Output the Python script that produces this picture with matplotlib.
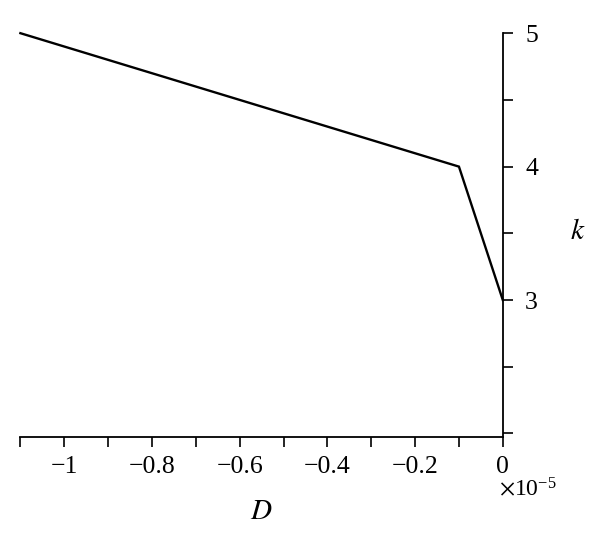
import matplotlib.pyplot as plt
import numpy as np
from matplotlib.ticker import MultipleLocator, FuncFormatter

# Data (D in units of 1e-5)
D_values = [-1.1, -0.1, 0.0]
k_values = [5, 4, 3]
scale = 1e-5

plt.rcParams['font.family'] = ['Liberation Serif', 'DejaVu Serif']
plt.rcParams['mathtext.fontset'] = 'stix'

fig = plt.figure(figsize=(6, 5.44), dpi=100)
ax = fig.add_axes([0.034, 0.197, 0.804, 0.742])

ax.plot(np.array(D_values) * scale, k_values, color='black', linewidth=1.7,
        solid_joinstyle='miter', clip_on=False)

ax.set_xlim(-1.1 * scale, 0)
ax.set_ylim(1.975, 5)

# only bottom and right axis lines
ax.spines['left'].set_visible(False)
ax.spines['top'].set_visible(False)
ax.spines['right'].set_bounds(1.975, 5)
for s in ('bottom', 'right'):
    ax.spines[s].set_linewidth(1.3)

ax.yaxis.tick_right()
ax.yaxis.set_label_position('right')
ax.yaxis.set_major_locator(MultipleLocator(1))
ax.yaxis.set_minor_locator(MultipleLocator(0.5))
ax.yaxis.set_major_formatter(FuncFormatter(lambda v, p: '' if v < 2.5 else '%d' % v))

ax.xaxis.set_major_locator(MultipleLocator(0.2 * scale))
ax.xaxis.set_minor_locator(MultipleLocator(0.1 * scale))

def xfmt(v, p):
    u = round(v / scale, 1)
    if abs(u) < 1e-9:
        return '0'
    return ('%g' % u).replace('-', '\u2212')

ax.xaxis.set_major_formatter(FuncFormatter(xfmt))

ax.tick_params(which='both', direction='out', length=7, width=1.2,
               labelsize=18.5, pad=7)
ax.tick_params(axis='y', which='both', pad=9)

ax.set_xlabel('$D$', fontsize=21)
ax.xaxis.set_label_coords(0.5, -0.155)
ax.set_ylabel('$k$', fontsize=21, rotation=0)
ax.yaxis.set_label_coords(1.155, 0.54)

ax.text(0.993, -0.1, r'$\times\mathregular{10^{-5}}$', transform=ax.transAxes,
        fontsize=17, ha='left', va='top')

fig.savefig('out.png', dpi=100)
